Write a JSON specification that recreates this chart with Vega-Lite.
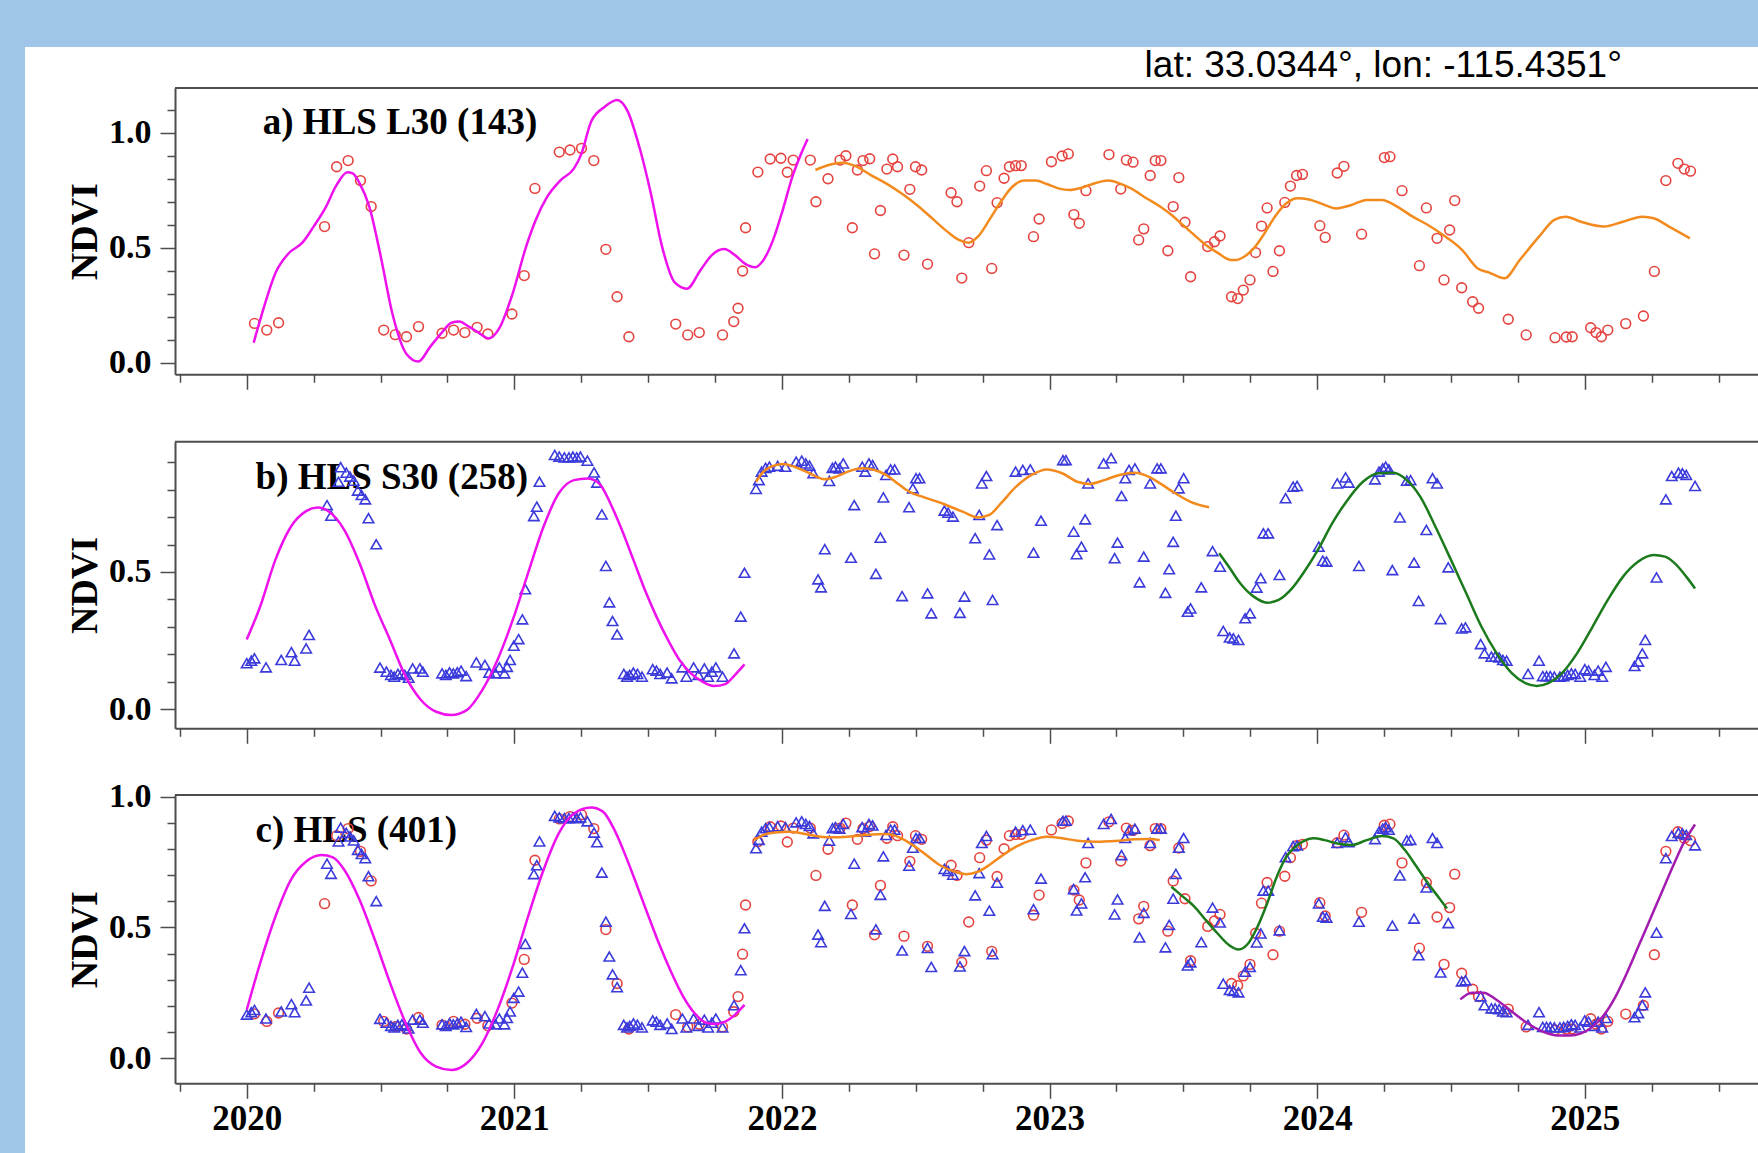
{
"$schema": "https://vega.github.io/schema/vega-lite/v6.json",
"width": 1733,
"height": 1106,
"autosize": {"type": "none"},
"padding": {"left": 25, "top": 47, "right": 0, "bottom": 0},
"background": "#9fc5e8",
"config": {
  "view": {"fill": "#ffffff", "stroke": null},
  "axis": {"domainColor": "#4d4d4d", "domainWidth": 2, "tickColor": "#4d4d4d", "tickWidth": 1.5, "grid": false,
    "labelFont": "Liberation Serif", "labelFontWeight": "bold", "labelColor": "#000000",
    "titleFont": "Liberation Serif", "titleFontWeight": "bold", "titleColor": "#000000",
    "labelOverlap": false, "labelFlush": false, "labelBound": false}
},
"datasets": {
"l30": [
{"year":2020.029,"ndvi":0.170},{"year":2020.075,"ndvi":0.141},{"year":2020.119,"ndvi":0.173},{"year":2020.291,"ndvi":0.591},{"year":2020.336,"ndvi":0.851},{"year":2020.379,"ndvi":0.878},{"year":2020.425,"ndvi":0.791},{"year":2020.465,"ndvi":0.678},{"year":2020.512,"ndvi":0.141},{"year":2020.555,"ndvi":0.121},{"year":2020.597,"ndvi":0.112},{"year":2020.642,"ndvi":0.156},{"year":2020.730,"ndvi":0.127},{"year":2020.773,"ndvi":0.141},{"year":2020.815,"ndvi":0.130},{"year":2020.861,"ndvi":0.153},{"year":2020.901,"ndvi":0.124},{"year":2020.991,"ndvi":0.211},{"year":2021.037,"ndvi":0.378},{"year":2021.077,"ndvi":0.757},{"year":2021.168,"ndvi":0.915},{"year":2021.208,"ndvi":0.924},{"year":2021.251,"ndvi":0.931},{"year":2021.297,"ndvi":0.878},
{"year":2021.342,"ndvi":0.492},{"year":2021.384,"ndvi":0.286},{"year":2021.428,"ndvi":0.112},{"year":2021.603,"ndvi":0.167},{"year":2021.648,"ndvi":0.120},{"year":2021.691,"ndvi":0.130},{"year":2021.778,"ndvi":0.120},{"year":2021.820,"ndvi":0.178},{"year":2021.836,"ndvi":0.236},{"year":2021.853,"ndvi":0.398},{"year":2021.864,"ndvi":0.586},{"year":2021.910,"ndvi":0.828},{"year":2021.956,"ndvi":0.885},{"year":2021.996,"ndvi":0.888},{"year":2022.020,"ndvi":0.827},{"year":2022.042,"ndvi":0.880},{"year":2022.106,"ndvi":0.880},{"year":2022.127,"ndvi":0.699},{"year":2022.172,"ndvi":0.799},{"year":2022.217,"ndvi":0.880},{"year":2022.239,"ndvi":0.899},{"year":2022.263,"ndvi":0.586},{"year":2022.282,"ndvi":0.837},{"year":2022.303,"ndvi":0.878},{"year":2022.328,"ndvi":0.886},{"year":2022.346,"ndvi":0.472},{"year":2022.368,"ndvi":0.661},{"year":2022.392,"ndvi":0.841},{"year":2022.414,"ndvi":0.885},{"year":2022.432,"ndvi":0.851},{"year":2022.456,"ndvi":0.467},{"year":2022.478,"ndvi":0.753},{"year":2022.499,"ndvi":0.851},{"year":2022.522,"ndvi":0.837},{"year":2022.544,"ndvi":0.428},{"year":2022.632,"ndvi":0.738},{"year":2022.654,"ndvi":0.699},{"year":2022.672,"ndvi":0.367},{"year":2022.698,"ndvi":0.521},{"year":2022.739,"ndvi":0.767},{"year":2022.764,"ndvi":0.834},{"year":2022.784,"ndvi":0.409},{"year":2022.804,"ndvi":0.695},{"year":2022.830,"ndvi":0.801},{"year":2022.850,"ndvi":0.851},{"year":2022.873,"ndvi":0.856},{"year":2022.894,"ndvi":0.856},{"year":2022.940,"ndvi":0.547},{"year":2022.961,"ndvi":0.624},{"year":2023.007,"ndvi":0.873},{"year":2023.047,"ndvi":0.898},{"year":2023.070,"ndvi":0.907},{"year":2023.091,"ndvi":0.643},{"year":2023.111,"ndvi":0.605},{"year":2023.136,"ndvi":0.747},{"year":2023.222,"ndvi":0.904},{"year":2023.266,"ndvi":0.754},{"year":2023.287,"ndvi":0.880},{"year":2023.312,"ndvi":0.871},{"year":2023.333,"ndvi":0.533},{"year":2023.352,"ndvi":0.581},{"year":2023.376,"ndvi":0.813},{"year":2023.395,"ndvi":0.878},{"year":2023.416,"ndvi":0.878},{"year":2023.442,"ndvi":0.486},{"year":2023.462,"ndvi":0.678},{"year":2023.483,"ndvi":0.804},
{"year":2023.506,"ndvi":0.610},{"year":2023.527,"ndvi":0.373},{"year":2023.591,"ndvi":0.504},{"year":2023.616,"ndvi":0.525},{"year":2023.637,"ndvi":0.550},{"year":2023.680,"ndvi":0.286},{"year":2023.703,"ndvi":0.278},{"year":2023.724,"ndvi":0.315},{"year":2023.749,"ndvi":0.359},{"year":2023.770,"ndvi":0.478},{"year":2023.792,"ndvi":0.593},{"year":2023.813,"ndvi":0.672},{"year":2023.835,"ndvi":0.396},{"year":2023.859,"ndvi":0.486},{"year":2023.879,"ndvi":0.696},{"year":2023.900,"ndvi":0.767},{"year":2023.923,"ndvi":0.813},{"year":2023.945,"ndvi":0.818},{"year":2024.010,"ndvi":0.595},{"year":2024.030,"ndvi":0.544},{"year":2024.075,"ndvi":0.824},{"year":2024.100,"ndvi":0.853},{"year":2024.166,"ndvi":0.558},{"year":2024.251,"ndvi":0.891},{"year":2024.272,"ndvi":0.895},{"year":2024.317,"ndvi":0.747},{"year":2024.382,"ndvi":0.421},{"year":2024.408,"ndvi":0.672},{"year":2024.448,"ndvi":0.540},{"year":2024.474,"ndvi":0.359},{"year":2024.495,"ndvi":0.576},{"year":2024.514,"ndvi":0.704},{"year":2024.540,"ndvi":0.325},{"year":2024.581,"ndvi":0.264},{"year":2024.603,"ndvi":0.236},{"year":2024.714,"ndvi":0.188},{"year":2024.781,"ndvi":0.120},{"year":2024.889,"ndvi":0.108},{"year":2024.931,"ndvi":0.111},{"year":2024.953,"ndvi":0.112},{"year":2025.022,"ndvi":0.151},{"year":2025.042,"ndvi":0.130},{"year":2025.062,"ndvi":0.112},{"year":2025.086,"ndvi":0.141},{"year":2025.153,"ndvi":0.169},{"year":2025.219,"ndvi":0.202},{"year":2025.260,"ndvi":0.396},{"year":2025.303,"ndvi":0.791},{"year":2025.348,"ndvi":0.866},{"year":2025.372,"ndvi":0.841},{"year":2025.395,"ndvi":0.832}
],
"s30": [
{"year":2020.000,"ndvi":0.167},{"year":2020.017,"ndvi":0.176},{"year":2020.029,"ndvi":0.185},{"year":2020.072,"ndvi":0.152},{"year":2020.129,"ndvi":0.179},{"year":2020.167,"ndvi":0.207},{"year":2020.179,"ndvi":0.176},{"year":2020.222,"ndvi":0.221},{"year":2020.233,"ndvi":0.270},{"year":2020.300,"ndvi":0.744},{"year":2020.315,"ndvi":0.705},{"year":2020.343,"ndvi":0.829},{"year":2020.351,"ndvi":0.882},{"year":2020.372,"ndvi":0.862},{"year":2020.386,"ndvi":0.848},{"year":2020.400,"ndvi":0.833},{"year":2020.415,"ndvi":0.797},{"year":2020.429,"ndvi":0.781},{"year":2020.443,"ndvi":0.765},{"year":2020.455,"ndvi":0.696},{"year":2020.484,"ndvi":0.601},{"year":2020.498,"ndvi":0.151},{"year":2020.522,"ndvi":0.136},{"year":2020.539,"ndvi":0.124},{"year":2020.551,"ndvi":0.118},{"year":2020.565,"ndvi":0.128},{"year":2020.580,"ndvi":0.130},{"year":2020.591,"ndvi":0.124},{"year":2020.605,"ndvi":0.114},{"year":2020.620,"ndvi":0.148},{"year":2020.647,"ndvi":0.148},{"year":2020.658,"ndvi":0.136},{"year":2020.730,"ndvi":0.130},{"year":2020.744,"ndvi":0.124},{"year":2020.758,"ndvi":0.134},{"year":2020.772,"ndvi":0.130},{"year":2020.787,"ndvi":0.134},{"year":2020.801,"ndvi":0.140},{"year":2020.820,"ndvi":0.120},{"year":2020.858,"ndvi":0.170},{"year":2020.890,"ndvi":0.161},{"year":2020.906,"ndvi":0.133},{"year":2020.930,"ndvi":0.130},{"year":2020.944,"ndvi":0.152},{"year":2020.963,"ndvi":0.130},{"year":2020.973,"ndvi":0.154},{"year":2020.984,"ndvi":0.179},{"year":2020.998,"ndvi":0.231},{"year":2021.016,"ndvi":0.255},{"year":2021.030,"ndvi":0.327},{"year":2021.041,"ndvi":0.437},{"year":2021.073,"ndvi":0.704},{"year":2021.084,"ndvi":0.738},{"year":2021.094,"ndvi":0.829},{"year":2021.151,"ndvi":0.927},{"year":2021.168,"ndvi":0.921},{"year":2021.187,"ndvi":0.918},{"year":2021.204,"ndvi":0.918},{"year":2021.219,"ndvi":0.921},{"year":2021.233,"ndvi":0.918},{"year":2021.247,"ndvi":0.921},{"year":2021.273,"ndvi":0.906},
{"year":2021.298,"ndvi":0.863},{"year":2021.309,"ndvi":0.826},{"year":2021.327,"ndvi":0.710},{"year":2021.342,"ndvi":0.522},{"year":2021.355,"ndvi":0.389},{"year":2021.367,"ndvi":0.321},{"year":2021.384,"ndvi":0.272},{"year":2021.409,"ndvi":0.128},{"year":2021.421,"ndvi":0.118},{"year":2021.431,"ndvi":0.124},{"year":2021.445,"ndvi":0.133},{"year":2021.460,"ndvi":0.128},{"year":2021.477,"ndvi":0.118},{"year":2021.517,"ndvi":0.145},{"year":2021.531,"ndvi":0.140},{"year":2021.545,"ndvi":0.128},{"year":2021.571,"ndvi":0.133},{"year":2021.588,"ndvi":0.112},{"year":2021.628,"ndvi":0.152},{"year":2021.643,"ndvi":0.118},{"year":2021.670,"ndvi":0.152},{"year":2021.688,"ndvi":0.124},{"year":2021.710,"ndvi":0.148},{"year":2021.724,"ndvi":0.118},{"year":2021.738,"ndvi":0.136},{"year":2021.753,"ndvi":0.152},{"year":2021.778,"ndvi":0.118},{"year":2021.821,"ndvi":0.203},{"year":2021.846,"ndvi":0.337},{"year":2021.860,"ndvi":0.497},{"year":2021.903,"ndvi":0.803},{"year":2021.914,"ndvi":0.835},{"year":2021.924,"ndvi":0.866},{"year":2021.939,"ndvi":0.880},{"year":2021.953,"ndvi":0.884},{"year":2021.984,"ndvi":0.887},{"year":2022.013,"ndvi":0.884},{"year":2022.053,"ndvi":0.902},{"year":2022.074,"ndvi":0.906},{"year":2022.089,"ndvi":0.896},{"year":2022.103,"ndvi":0.888},{"year":2022.117,"ndvi":0.860},{"year":2022.135,"ndvi":0.473},{"year":2022.146,"ndvi":0.444},{"year":2022.160,"ndvi":0.583},{"year":2022.177,"ndvi":0.832},{"year":2022.189,"ndvi":0.880},{"year":2022.200,"ndvi":0.884},{"year":2022.215,"ndvi":0.878},{"year":2022.229,"ndvi":0.896},{"year":2022.258,"ndvi":0.552},{"year":2022.270,"ndvi":0.744},{"year":2022.300,"ndvi":0.884},{"year":2022.311,"ndvi":0.866},{"year":2022.325,"ndvi":0.896},{"year":2022.339,"ndvi":0.890},{"year":2022.351,"ndvi":0.493},{"year":2022.368,"ndvi":0.625},{"year":2022.379,"ndvi":0.772},{"year":2022.389,"ndvi":0.854},{"year":2022.406,"ndvi":0.874},{"year":2022.421,"ndvi":0.874},{"year":2022.449,"ndvi":0.412},{"year":2022.475,"ndvi":0.736},{"year":2022.489,"ndvi":0.805},{"year":2022.501,"ndvi":0.842},{"year":2022.514,"ndvi":0.842},{"year":2022.544,"ndvi":0.422},{"year":2022.558,"ndvi":0.349},{"year":2022.607,"ndvi":0.724},{"year":2022.621,"ndvi":0.716},{"year":2022.639,"ndvi":0.702},{"year":2022.665,"ndvi":0.351},{"year":2022.682,"ndvi":0.410},{"year":2022.722,"ndvi":0.623},{"year":2022.737,"ndvi":0.708},{"year":2022.747,"ndvi":0.823},{"year":2022.764,"ndvi":0.850},{"year":2022.775,"ndvi":0.564},{"year":2022.787,"ndvi":0.398},{"year":2022.804,"ndvi":0.671},{"year":2022.873,"ndvi":0.866},{"year":2022.900,"ndvi":0.872},{"year":2022.928,"ndvi":0.874},{"year":2022.940,"ndvi":0.570},{"year":2022.968,"ndvi":0.687},{"year":2023.050,"ndvi":0.908},{"year":2023.061,"ndvi":0.908},{"year":2023.090,"ndvi":0.647},{"year":2023.101,"ndvi":0.565},{"year":2023.119,"ndvi":0.592},{"year":2023.133,"ndvi":0.692},{"year":2023.144,"ndvi":0.823},{"year":2023.202,"ndvi":0.896},{"year":2023.230,"ndvi":0.915},{"year":2023.243,"ndvi":0.550},{"year":2023.254,"ndvi":0.607},{"year":2023.269,"ndvi":0.777},{"year":2023.283,"ndvi":0.842},{"year":2023.297,"ndvi":0.872},{"year":2023.319,"ndvi":0.878},{"year":2023.336,"ndvi":0.462},{"year":2023.352,"ndvi":0.556},{"year":2023.376,"ndvi":0.823},{"year":2023.402,"ndvi":0.878},{"year":2023.416,"ndvi":0.878},{"year":2023.433,"ndvi":0.424},{"year":2023.447,"ndvi":0.510},{"year":2023.462,"ndvi":0.610},{"year":2023.472,"ndvi":0.705},{"year":2023.483,"ndvi":0.805},
{"year":2023.501,"ndvi":0.842},{"year":2023.516,"ndvi":0.355},{"year":2023.527,"ndvi":0.367},{"year":2023.567,"ndvi":0.444},{"year":2023.609,"ndvi":0.576},{"year":2023.637,"ndvi":0.519},{"year":2023.649,"ndvi":0.285},{"year":2023.673,"ndvi":0.261},{"year":2023.687,"ndvi":0.258},{"year":2023.706,"ndvi":0.252},{"year":2023.731,"ndvi":0.331},{"year":2023.749,"ndvi":0.349},{"year":2023.774,"ndvi":0.443},{"year":2023.789,"ndvi":0.477},{"year":2023.799,"ndvi":0.641},{"year":2023.817,"ndvi":0.641},{"year":2023.859,"ndvi":0.489},{"year":2023.882,"ndvi":0.769},{"year":2023.910,"ndvi":0.811},{"year":2023.925,"ndvi":0.814},{"year":2024.006,"ndvi":0.592},{"year":2024.021,"ndvi":0.541},{"year":2024.035,"ndvi":0.538},{"year":2024.075,"ndvi":0.823},{"year":2024.106,"ndvi":0.845},{"year":2024.118,"ndvi":0.826},{"year":2024.156,"ndvi":0.522},{"year":2024.216,"ndvi":0.838},{"year":2024.231,"ndvi":0.866},{"year":2024.245,"ndvi":0.878},{"year":2024.256,"ndvi":0.884},{"year":2024.268,"ndvi":0.874},{"year":2024.281,"ndvi":0.507},{"year":2024.309,"ndvi":0.699},{"year":2024.335,"ndvi":0.833},{"year":2024.349,"ndvi":0.835},{"year":2024.362,"ndvi":0.534},{"year":2024.379,"ndvi":0.394},{"year":2024.408,"ndvi":0.653},{"year":2024.431,"ndvi":0.842},{"year":2024.448,"ndvi":0.823},{"year":2024.461,"ndvi":0.328},{"year":2024.490,"ndvi":0.517},{"year":2024.540,"ndvi":0.294},{"year":2024.554,"ndvi":0.298},{"year":2024.611,"ndvi":0.237},{"year":2024.625,"ndvi":0.203},{"year":2024.651,"ndvi":0.191},{"year":2024.665,"ndvi":0.191},{"year":2024.680,"ndvi":0.188},{"year":2024.694,"ndvi":0.179},{"year":2024.708,"ndvi":0.176},{"year":2024.788,"ndvi":0.128},{"year":2024.829,"ndvi":0.176},{"year":2024.843,"ndvi":0.120},{"year":2024.857,"ndvi":0.120},{"year":2024.871,"ndvi":0.120},{"year":2024.886,"ndvi":0.118},{"year":2024.907,"ndvi":0.118},{"year":2024.921,"ndvi":0.120},{"year":2024.936,"ndvi":0.124},{"year":2024.950,"ndvi":0.130},{"year":2024.964,"ndvi":0.128},{"year":2024.983,"ndvi":0.118},{"year":2025.000,"ndvi":0.145},{"year":2025.014,"ndvi":0.140},{"year":2025.036,"ndvi":0.124},{"year":2025.050,"ndvi":0.140},{"year":2025.065,"ndvi":0.118},{"year":2025.079,"ndvi":0.154},{"year":2025.186,"ndvi":0.157},{"year":2025.200,"ndvi":0.173},{"year":2025.215,"ndvi":0.203},{"year":2025.226,"ndvi":0.252},{"year":2025.268,"ndvi":0.480},{"year":2025.303,"ndvi":0.765},{"year":2025.325,"ndvi":0.850},{"year":2025.350,"ndvi":0.862},{"year":2025.365,"ndvi":0.860},{"year":2025.379,"ndvi":0.854},{"year":2025.412,"ndvi":0.814}
],
"fits": [
{"panel":"a","fit":1,"year":2020.026,"ndvi":0.086},{"panel":"a","fit":1,"year":2020.065,"ndvi":0.243},{"panel":"a","fit":1,"year":2020.107,"ndvi":0.388},{"panel":"a","fit":1,"year":2020.157,"ndvi":0.475},{"panel":"a","fit":1,"year":2020.208,"ndvi":0.521},{"panel":"a","fit":1,"year":2020.250,"ndvi":0.591},{"panel":"a","fit":1,"year":2020.293,"ndvi":0.670},{"panel":"a","fit":1,"year":2020.336,"ndvi":0.772},{"panel":"a","fit":1,"year":2020.376,"ndvi":0.827},{"panel":"a","fit":1,"year":2020.396,"ndvi":0.822},{"panel":"a","fit":1,"year":2020.422,"ndvi":0.779},{"panel":"a","fit":1,"year":2020.458,"ndvi":0.678},{"panel":"a","fit":1,"year":2020.501,"ndvi":0.460},{"panel":"a","fit":1,"year":2020.544,"ndvi":0.214},{"panel":"a","fit":1,"year":2020.597,"ndvi":0.037},{"panel":"a","fit":1,"year":2020.641,"ndvi":0.004},{"panel":"a","fit":1,"year":2020.686,"ndvi":0.069},{"panel":"a","fit":1,"year":2020.729,"ndvi":0.130},{"panel":"a","fit":1,"year":2020.765,"ndvi":0.173},{"panel":"a","fit":1,"year":2020.794,"ndvi":0.178},{"panel":"a","fit":1,"year":2020.830,"ndvi":0.156},{"panel":"a","fit":1,"year":2020.865,"ndvi":0.131},{"panel":"a","fit":1,"year":2020.905,"ndvi":0.105},{"panel":"a","fit":1,"year":2020.944,"ndvi":0.149},{"panel":"a","fit":1,"year":2020.994,"ndvi":0.301},{"panel":"a","fit":1,"year":2021.044,"ndvi":0.504},{"panel":"a","fit":1,"year":2021.080,"ndvi":0.620},{"panel":"a","fit":1,"year":2021.123,"ndvi":0.721},{"panel":"a","fit":1,"year":2021.173,"ndvi":0.793},{"panel":"a","fit":1,"year":2021.223,"ndvi":0.844},{"panel":"a","fit":1,"year":2021.250,"ndvi":0.905},{"panel":"a","fit":1,"year":2021.288,"ndvi":1.050},{"panel":"a","fit":1,"year":2021.338,"ndvi":1.112},{"panel":"a","fit":1,"year":2021.384,"ndvi":1.141},{"panel":"a","fit":1,"year":2021.424,"ndvi":1.091},{"panel":"a","fit":1,"year":2021.467,"ndvi":0.938},{"panel":"a","fit":1,"year":2021.510,"ndvi":0.736},{"panel":"a","fit":1,"year":2021.552,"ndvi":0.504},{"panel":"a","fit":1,"year":2021.600,"ndvi":0.347},{"panel":"a","fit":1,"year":2021.645,"ndvi":0.321},{"panel":"a","fit":1,"year":2021.696,"ndvi":0.402},{"panel":"a","fit":1,"year":2021.738,"ndvi":0.467},{"panel":"a","fit":1,"year":2021.784,"ndvi":0.493},{"panel":"a","fit":1,"year":2021.824,"ndvi":0.467},{"panel":"a","fit":1,"year":2021.860,"ndvi":0.431},{"panel":"a","fit":1,"year":2021.900,"ndvi":0.414},{"panel":"a","fit":1,"year":2021.931,"ndvi":0.446},{"panel":"a","fit":1,"year":2021.967,"ndvi":0.533},{"panel":"a","fit":1,"year":2022.003,"ndvi":0.663},{"panel":"a","fit":1,"year":2022.039,"ndvi":0.808},{"panel":"a","fit":1,"year":2022.072,"ndvi":0.909},{"panel":"a","fit":1,"year":2022.096,"ndvi":0.972},
{"panel":"a","fit":2,"year":2022.125,"ndvi":0.837},{"panel":"a","fit":2,"year":2022.175,"ndvi":0.859},{"panel":"a","fit":2,"year":2022.225,"ndvi":0.869},{"panel":"a","fit":2,"year":2022.275,"ndvi":0.854},{"panel":"a","fit":2,"year":2022.332,"ndvi":0.815},{"panel":"a","fit":2,"year":2022.389,"ndvi":0.779},{"panel":"a","fit":2,"year":2022.446,"ndvi":0.736},{"panel":"a","fit":2,"year":2022.504,"ndvi":0.685},{"panel":"a","fit":2,"year":2022.561,"ndvi":0.627},{"panel":"a","fit":2,"year":2022.618,"ndvi":0.569},{"panel":"a","fit":2,"year":2022.661,"ndvi":0.533},{"panel":"a","fit":2,"year":2022.697,"ndvi":0.521},{"panel":"a","fit":2,"year":2022.732,"ndvi":0.547},{"panel":"a","fit":2,"year":2022.775,"ndvi":0.620},{"panel":"a","fit":2,"year":2022.818,"ndvi":0.699},{"panel":"a","fit":2,"year":2022.861,"ndvi":0.764},{"panel":"a","fit":2,"year":2022.904,"ndvi":0.791},{"panel":"a","fit":2,"year":2022.947,"ndvi":0.791},{"panel":"a","fit":2,"year":2022.990,"ndvi":0.776},{"panel":"a","fit":2,"year":2023.033,"ndvi":0.757},{"panel":"a","fit":2,"year":2023.076,"ndvi":0.750},{"panel":"a","fit":2,"year":2023.119,"ndvi":0.760},{"panel":"a","fit":2,"year":2023.161,"ndvi":0.776},{"panel":"a","fit":2,"year":2023.219,"ndvi":0.791},{"panel":"a","fit":2,"year":2023.261,"ndvi":0.779},{"panel":"a","fit":2,"year":2023.304,"ndvi":0.757},{"panel":"a","fit":2,"year":2023.362,"ndvi":0.714},{"panel":"a","fit":2,"year":2023.413,"ndvi":0.678},{"panel":"a","fit":2,"year":2023.456,"ndvi":0.641},{"panel":"a","fit":2,"year":2023.498,"ndvi":0.598},{"panel":"a","fit":2,"year":2023.541,"ndvi":0.554},{"panel":"a","fit":2,"year":2023.584,"ndvi":0.511},{"panel":"a","fit":2,"year":2023.627,"ndvi":0.478},{"panel":"a","fit":2,"year":2023.677,"ndvi":0.446},{"panel":"a","fit":2,"year":2023.699,"ndvi":0.446},{"panel":"a","fit":2,"year":2023.727,"ndvi":0.460},{"panel":"a","fit":2,"year":2023.763,"ndvi":0.496},{"panel":"a","fit":2,"year":2023.799,"ndvi":0.554},{"panel":"a","fit":2,"year":2023.842,"ndvi":0.634},{"panel":"a","fit":2,"year":2023.885,"ndvi":0.692},{"panel":"a","fit":2,"year":2023.927,"ndvi":0.714},{"panel":"a","fit":2,"year":2023.970,"ndvi":0.709},{"panel":"a","fit":2,"year":2024.013,"ndvi":0.692},{"panel":"a","fit":2,"year":2024.071,"ndvi":0.670},{"panel":"a","fit":2,"year":2024.128,"ndvi":0.685},{"panel":"a","fit":2,"year":2024.185,"ndvi":0.707},{"panel":"a","fit":2,"year":2024.242,"ndvi":0.707},{"panel":"a","fit":2,"year":2024.299,"ndvi":0.678},{"panel":"a","fit":2,"year":2024.357,"ndvi":0.634},{"panel":"a","fit":2,"year":2024.414,"ndvi":0.598},{"panel":"a","fit":2,"year":2024.471,"ndvi":0.554},{"panel":"a","fit":2,"year":2024.542,"ndvi":0.489},{"panel":"a","fit":2,"year":2024.600,"ndvi":0.409},{"panel":"a","fit":2,"year":2024.643,"ndvi":0.391},{"panel":"a","fit":2,"year":2024.700,"ndvi":0.366},{"panel":"a","fit":2,"year":2024.757,"ndvi":0.446},{"panel":"a","fit":2,"year":2024.829,"ndvi":0.547},{"panel":"a","fit":2,"year":2024.886,"ndvi":0.620},{"panel":"a","fit":2,"year":2024.929,"ndvi":0.634},{"panel":"a","fit":2,"year":2024.986,"ndvi":0.612},{"panel":"a","fit":2,"year":2025.072,"ndvi":0.591},{"panel":"a","fit":2,"year":2025.143,"ndvi":0.612},{"panel":"a","fit":2,"year":2025.215,"ndvi":0.634},{"panel":"a","fit":2,"year":2025.258,"ndvi":0.627},{"panel":"a","fit":2,"year":2025.315,"ndvi":0.591},{"panel":"a","fit":2,"year":2025.393,"ndvi":0.540},
{"panel":"b","fit":1,"year":2020.000,"ndvi":0.254},{"panel":"b","fit":1,"year":2020.050,"ndvi":0.373},{"panel":"b","fit":1,"year":2020.107,"ndvi":0.544},{"panel":"b","fit":1,"year":2020.165,"ndvi":0.665},{"panel":"b","fit":1,"year":2020.222,"ndvi":0.722},{"panel":"b","fit":1,"year":2020.265,"ndvi":0.735},{"panel":"b","fit":1,"year":2020.308,"ndvi":0.720},{"panel":"b","fit":1,"year":2020.365,"ndvi":0.653},{"panel":"b","fit":1,"year":2020.422,"ndvi":0.531},{"panel":"b","fit":1,"year":2020.479,"ndvi":0.379},{"panel":"b","fit":1,"year":2020.536,"ndvi":0.251},{"panel":"b","fit":1,"year":2020.594,"ndvi":0.118},{"panel":"b","fit":1,"year":2020.651,"ndvi":0.033},{"panel":"b","fit":1,"year":2020.708,"ndvi":-0.010},{"panel":"b","fit":1,"year":2020.765,"ndvi":-0.022},{"panel":"b","fit":1,"year":2020.822,"ndvi":-0.004},{"panel":"b","fit":1,"year":2020.880,"ndvi":0.069},{"panel":"b","fit":1,"year":2020.937,"ndvi":0.179},{"panel":"b","fit":1,"year":2020.994,"ndvi":0.325},{"panel":"b","fit":1,"year":2021.051,"ndvi":0.495},{"panel":"b","fit":1,"year":2021.109,"ndvi":0.665},{"panel":"b","fit":1,"year":2021.166,"ndvi":0.787},{"panel":"b","fit":1,"year":2021.223,"ndvi":0.835},{"panel":"b","fit":1,"year":2021.273,"ndvi":0.841},{"panel":"b","fit":1,"year":2021.317,"ndvi":0.823},{"panel":"b","fit":1,"year":2021.359,"ndvi":0.750},{"panel":"b","fit":1,"year":2021.402,"ndvi":0.653},{"panel":"b","fit":1,"year":2021.445,"ndvi":0.544},{"panel":"b","fit":1,"year":2021.488,"ndvi":0.434},{"panel":"b","fit":1,"year":2021.531,"ndvi":0.337},{"panel":"b","fit":1,"year":2021.574,"ndvi":0.252},{"panel":"b","fit":1,"year":2021.617,"ndvi":0.179},{"panel":"b","fit":1,"year":2021.660,"ndvi":0.130},{"panel":"b","fit":1,"year":2021.703,"ndvi":0.100},{"panel":"b","fit":1,"year":2021.746,"ndvi":0.084},{"panel":"b","fit":1,"year":2021.788,"ndvi":0.091},{"panel":"b","fit":1,"year":2021.824,"ndvi":0.124},{"panel":"b","fit":1,"year":2021.860,"ndvi":0.163},
{"panel":"b","fit":2,"year":2021.903,"ndvi":0.829},{"panel":"b","fit":2,"year":2021.931,"ndvi":0.866},{"panel":"b","fit":2,"year":2021.960,"ndvi":0.884},{"panel":"b","fit":2,"year":2022.003,"ndvi":0.894},{"panel":"b","fit":2,"year":2022.046,"ndvi":0.884},{"panel":"b","fit":2,"year":2022.103,"ndvi":0.860},{"panel":"b","fit":2,"year":2022.160,"ndvi":0.838},{"panel":"b","fit":2,"year":2022.203,"ndvi":0.848},{"panel":"b","fit":2,"year":2022.246,"ndvi":0.866},{"panel":"b","fit":2,"year":2022.303,"ndvi":0.878},{"panel":"b","fit":2,"year":2022.346,"ndvi":0.872},{"panel":"b","fit":2,"year":2022.389,"ndvi":0.854},{"panel":"b","fit":2,"year":2022.432,"ndvi":0.823},{"panel":"b","fit":2,"year":2022.475,"ndvi":0.793},{"panel":"b","fit":2,"year":2022.532,"ndvi":0.772},{"panel":"b","fit":2,"year":2022.604,"ndvi":0.748},{"panel":"b","fit":2,"year":2022.675,"ndvi":0.720},{"panel":"b","fit":2,"year":2022.732,"ndvi":0.699},{"panel":"b","fit":2,"year":2022.775,"ndvi":0.708},{"panel":"b","fit":2,"year":2022.818,"ndvi":0.750},{"panel":"b","fit":2,"year":2022.875,"ndvi":0.811},{"panel":"b","fit":2,"year":2022.933,"ndvi":0.854},{"panel":"b","fit":2,"year":2022.990,"ndvi":0.874},{"panel":"b","fit":2,"year":2023.047,"ndvi":0.860},{"panel":"b","fit":2,"year":2023.104,"ndvi":0.829},{"panel":"b","fit":2,"year":2023.147,"ndvi":0.821},{"panel":"b","fit":2,"year":2023.204,"ndvi":0.835},{"panel":"b","fit":2,"year":2023.262,"ndvi":0.854},{"panel":"b","fit":2,"year":2023.319,"ndvi":0.862},{"panel":"b","fit":2,"year":2023.376,"ndvi":0.845},{"panel":"b","fit":2,"year":2023.413,"ndvi":0.823},{"panel":"b","fit":2,"year":2023.470,"ndvi":0.787},{"panel":"b","fit":2,"year":2023.527,"ndvi":0.756},{"panel":"b","fit":2,"year":2023.596,"ndvi":0.736},
{"panel":"b","fit":3,"year":2023.634,"ndvi":0.568},{"panel":"b","fit":3,"year":2023.670,"ndvi":0.519},{"panel":"b","fit":3,"year":2023.713,"ndvi":0.458},{"panel":"b","fit":3,"year":2023.763,"ndvi":0.410},{"panel":"b","fit":3,"year":2023.813,"ndvi":0.388},{"panel":"b","fit":3,"year":2023.856,"ndvi":0.398},{"panel":"b","fit":3,"year":2023.906,"ndvi":0.440},{"panel":"b","fit":3,"year":2023.956,"ndvi":0.507},{"panel":"b","fit":3,"year":2024.006,"ndvi":0.586},{"panel":"b","fit":3,"year":2024.056,"ndvi":0.677},{"panel":"b","fit":3,"year":2024.113,"ndvi":0.762},{"panel":"b","fit":3,"year":2024.171,"ndvi":0.829},{"panel":"b","fit":3,"year":2024.228,"ndvi":0.860},{"panel":"b","fit":3,"year":2024.285,"ndvi":0.862},{"panel":"b","fit":3,"year":2024.335,"ndvi":0.835},{"panel":"b","fit":3,"year":2024.385,"ndvi":0.775},{"panel":"b","fit":3,"year":2024.442,"ndvi":0.665},{"panel":"b","fit":3,"year":2024.500,"ndvi":0.544},{"panel":"b","fit":3,"year":2024.557,"ndvi":0.422},{"panel":"b","fit":3,"year":2024.614,"ndvi":0.300},{"panel":"b","fit":3,"year":2024.671,"ndvi":0.203},{"panel":"b","fit":3,"year":2024.728,"ndvi":0.130},{"panel":"b","fit":3,"year":2024.778,"ndvi":0.094},{"panel":"b","fit":3,"year":2024.821,"ndvi":0.084},{"panel":"b","fit":3,"year":2024.864,"ndvi":0.094},{"panel":"b","fit":3,"year":2024.914,"ndvi":0.130},{"panel":"b","fit":3,"year":2024.971,"ndvi":0.203},{"panel":"b","fit":3,"year":2025.029,"ndvi":0.300},{"panel":"b","fit":3,"year":2025.086,"ndvi":0.398},{"panel":"b","fit":3,"year":2025.143,"ndvi":0.483},{"panel":"b","fit":3,"year":2025.200,"ndvi":0.538},{"panel":"b","fit":3,"year":2025.257,"ndvi":0.562},{"panel":"b","fit":3,"year":2025.300,"ndvi":0.556},{"panel":"b","fit":3,"year":2025.343,"ndvi":0.525},{"panel":"b","fit":3,"year":2025.379,"ndvi":0.483},{"panel":"b","fit":3,"year":2025.412,"ndvi":0.440},
{"panel":"c","fit":1,"year":2020.000,"ndvi":0.185},{"panel":"c","fit":1,"year":2020.050,"ndvi":0.363},{"panel":"c","fit":1,"year":2020.107,"ndvi":0.541},{"panel":"c","fit":1,"year":2020.165,"ndvi":0.682},{"panel":"c","fit":1,"year":2020.222,"ndvi":0.752},{"panel":"c","fit":1,"year":2020.279,"ndvi":0.777},{"panel":"c","fit":1,"year":2020.322,"ndvi":0.768},{"panel":"c","fit":1,"year":2020.365,"ndvi":0.720},{"panel":"c","fit":1,"year":2020.422,"ndvi":0.605},{"panel":"c","fit":1,"year":2020.479,"ndvi":0.452},{"panel":"c","fit":1,"year":2020.536,"ndvi":0.287},{"panel":"c","fit":1,"year":2020.594,"ndvi":0.134},{"panel":"c","fit":1,"year":2020.651,"ndvi":0.019},{"panel":"c","fit":1,"year":2020.708,"ndvi":-0.032},{"panel":"c","fit":1,"year":2020.765,"ndvi":-0.045},{"panel":"c","fit":1,"year":2020.822,"ndvi":-0.019},{"panel":"c","fit":1,"year":2020.880,"ndvi":0.057},{"panel":"c","fit":1,"year":2020.937,"ndvi":0.185},{"panel":"c","fit":1,"year":2020.994,"ndvi":0.350},{"panel":"c","fit":1,"year":2021.051,"ndvi":0.541},{"panel":"c","fit":1,"year":2021.109,"ndvi":0.720},{"panel":"c","fit":1,"year":2021.166,"ndvi":0.860},{"panel":"c","fit":1,"year":2021.223,"ndvi":0.936},{"panel":"c","fit":1,"year":2021.287,"ndvi":0.959},{"panel":"c","fit":1,"year":2021.331,"ndvi":0.943},{"panel":"c","fit":1,"year":2021.374,"ndvi":0.873},{"panel":"c","fit":1,"year":2021.417,"ndvi":0.771},{"panel":"c","fit":1,"year":2021.460,"ndvi":0.656},{"panel":"c","fit":1,"year":2021.502,"ndvi":0.541},{"panel":"c","fit":1,"year":2021.545,"ndvi":0.427},{"panel":"c","fit":1,"year":2021.588,"ndvi":0.325},{"panel":"c","fit":1,"year":2021.631,"ndvi":0.236},{"panel":"c","fit":1,"year":2021.674,"ndvi":0.172},{"panel":"c","fit":1,"year":2021.717,"ndvi":0.136},{"panel":"c","fit":1,"year":2021.753,"ndvi":0.131},{"panel":"c","fit":1,"year":2021.788,"ndvi":0.140},{"panel":"c","fit":1,"year":2021.824,"ndvi":0.166},{"panel":"c","fit":1,"year":2021.860,"ndvi":0.204},
{"panel":"c","fit":2,"year":2021.896,"ndvi":0.834},{"panel":"c","fit":2,"year":2021.931,"ndvi":0.854},{"panel":"c","fit":2,"year":2021.974,"ndvi":0.863},{"panel":"c","fit":2,"year":2022.032,"ndvi":0.866},{"panel":"c","fit":2,"year":2022.103,"ndvi":0.854},{"panel":"c","fit":2,"year":2022.175,"ndvi":0.845},{"panel":"c","fit":2,"year":2022.246,"ndvi":0.847},{"panel":"c","fit":2,"year":2022.318,"ndvi":0.854},{"panel":"c","fit":2,"year":2022.389,"ndvi":0.857},{"panel":"c","fit":2,"year":2022.446,"ndvi":0.841},{"panel":"c","fit":2,"year":2022.489,"ndvi":0.815},{"panel":"c","fit":2,"year":2022.532,"ndvi":0.783},{"panel":"c","fit":2,"year":2022.589,"ndvi":0.739},{"panel":"c","fit":2,"year":2022.647,"ndvi":0.713},{"panel":"c","fit":2,"year":2022.689,"ndvi":0.704},{"panel":"c","fit":2,"year":2022.732,"ndvi":0.713},{"panel":"c","fit":2,"year":2022.775,"ndvi":0.739},{"panel":"c","fit":2,"year":2022.818,"ndvi":0.771},{"panel":"c","fit":2,"year":2022.875,"ndvi":0.809},{"panel":"c","fit":2,"year":2022.933,"ndvi":0.834},{"panel":"c","fit":2,"year":2022.990,"ndvi":0.847},{"panel":"c","fit":2,"year":2023.047,"ndvi":0.841},{"panel":"c","fit":2,"year":2023.104,"ndvi":0.832},{"panel":"c","fit":2,"year":2023.176,"ndvi":0.828},{"panel":"c","fit":2,"year":2023.247,"ndvi":0.831},{"panel":"c","fit":2,"year":2023.319,"ndvi":0.837},{"panel":"c","fit":2,"year":2023.376,"ndvi":0.838},{"panel":"c","fit":2,"year":2023.412,"ndvi":0.834},
{"panel":"c","fit":3,"year":2023.455,"ndvi":0.656},{"panel":"c","fit":3,"year":2023.498,"ndvi":0.618},{"panel":"c","fit":3,"year":2023.541,"ndvi":0.580},{"panel":"c","fit":3,"year":2023.584,"ndvi":0.528},{"panel":"c","fit":3,"year":2023.627,"ndvi":0.478},{"panel":"c","fit":3,"year":2023.670,"ndvi":0.433},{"panel":"c","fit":3,"year":2023.706,"ndvi":0.416},{"panel":"c","fit":3,"year":2023.742,"ndvi":0.439},{"panel":"c","fit":3,"year":2023.777,"ndvi":0.503},{"panel":"c","fit":3,"year":2023.813,"ndvi":0.592},{"panel":"c","fit":3,"year":2023.849,"ndvi":0.694},{"panel":"c","fit":3,"year":2023.885,"ndvi":0.771},{"panel":"c","fit":3,"year":2023.927,"ndvi":0.815},{"panel":"c","fit":3,"year":2023.985,"ndvi":0.841},{"panel":"c","fit":3,"year":2024.028,"ndvi":0.834},{"panel":"c","fit":3,"year":2024.071,"ndvi":0.822},{"panel":"c","fit":3,"year":2024.128,"ndvi":0.815},{"panel":"c","fit":3,"year":2024.185,"ndvi":0.834},{"panel":"c","fit":3,"year":2024.242,"ndvi":0.850},{"panel":"c","fit":3,"year":2024.285,"ndvi":0.841},{"panel":"c","fit":3,"year":2024.328,"ndvi":0.796},{"panel":"c","fit":3,"year":2024.371,"ndvi":0.733},{"panel":"c","fit":3,"year":2024.414,"ndvi":0.669},{"panel":"c","fit":3,"year":2024.457,"ndvi":0.611},{"panel":"c","fit":3,"year":2024.485,"ndvi":0.573},
{"panel":"c","fit":4,"year":2024.535,"ndvi":0.225},{"panel":"c","fit":4,"year":2024.578,"ndvi":0.251},{"panel":"c","fit":4,"year":2024.621,"ndvi":0.251},{"panel":"c","fit":4,"year":2024.671,"ndvi":0.223},{"panel":"c","fit":4,"year":2024.728,"ndvi":0.178},{"panel":"c","fit":4,"year":2024.786,"ndvi":0.134},{"panel":"c","fit":4,"year":2024.843,"ndvi":0.102},{"panel":"c","fit":4,"year":2024.900,"ndvi":0.087},{"panel":"c","fit":4,"year":2024.943,"ndvi":0.087},{"panel":"c","fit":4,"year":2024.986,"ndvi":0.095},{"panel":"c","fit":4,"year":2025.029,"ndvi":0.121},{"panel":"c","fit":4,"year":2025.072,"ndvi":0.166},{"panel":"c","fit":4,"year":2025.115,"ndvi":0.236},{"panel":"c","fit":4,"year":2025.157,"ndvi":0.325},{"panel":"c","fit":4,"year":2025.200,"ndvi":0.427},{"panel":"c","fit":4,"year":2025.243,"ndvi":0.529},{"panel":"c","fit":4,"year":2025.286,"ndvi":0.631},{"panel":"c","fit":4,"year":2025.329,"ndvi":0.733},{"panel":"c","fit":4,"year":2025.372,"ndvi":0.828},{"panel":"c","fit":4,"year":2025.412,"ndvi":0.894}
]
},
"layer": [
{
 "layer": [
  {"data": {"values": [{"part": "frame"}]}, "mark": {"type": "rule", "color": "#4d4d4d", "strokeWidth": 2},
   "encoding": {
    "x": {"datum": 2019.732, "type": "quantitative", "scale": {"domain": [2019.732, 2026], "range": [150, 1827.4], "nice": false, "zero": false},
      "axis": {"orient": "bottom", "offset": -778.7, "title": null, "labels": false, "domain": false, "tickSize": 8, "values": [2019.75,2020.25,2020.5,2020.75,2021.25,2021.5,2021.75,2022.25,2022.5,2022.75,2023.25,2023.5,2023.75,2024.25,2024.5,2024.75,2025.25,2025.5,2025.75]}},
    "x2": {"datum": 2026},
    "y": {"datum": 1.1935, "type": "quantitative", "scale": {"domain": [-0.0513, 1.1935], "range": [327.3, 41], "nice": false, "zero": false},
      "axis": {"orient": "left", "offset": -150, "title": null, "labels": false, "domain": false, "tickSize": 8, "values": [0.1,0.2,0.3,0.4,0.6,0.7,0.8,0.9,1.1]}}
   }},
  {"layer": [
   {"data": {"name": "l30"}, "mark": {"type": "point", "shape": "circle", "filled": false, "size": 95, "strokeWidth": 1.6, "color": "#e5433f", "opacity": 1},
    "encoding": {
     "x": {"field": "year", "type": "quantitative", "scale": {"domain": [2019.732, 2026], "range": [150, 1827.4], "nice": false, "zero": false},
       "axis": {"orient": "bottom", "offset": -778.7, "title": null, "labels": false, "tickSize": 15, "values": [2020,2021,2022,2023,2024,2025]}},
     "y": {"field": "ndvi", "type": "quantitative", "scale": {"domain": [-0.0513, 1.1935], "range": [327.3, 41], "nice": false, "zero": false},
       "axis": {"orient": "left", "offset": -150, "title": "NDVI", "titleFontSize": 38, "titlePadding": 4, "labelFontSize": 34, "labelPadding": 9, "tickSize": 15, "values": [0, 0.5, 1], "format": ".1f"}}
    }},
   {"data": {"values": [{"label": "a) HLS L30 (143)"}]}, "mark": {"type": "text", "font": "Liberation Serif", "fontWeight": "bold", "fontSize": 37, "align": "left", "baseline": "alphabetic", "color": "#000000"},
    "encoding": {"x": {"datum": 2020.06}, "y": {"datum": 0.992}, "text": {"field": "label"}}},
   {"data": {"values": [{"label": "lat: 33.0344°, lon: -115.4351°"}]}, "mark": {"type": "text", "font": "Liberation Sans", "fontSize": 37, "align": "right", "baseline": "alphabetic", "color": "#000000"},
    "encoding": {"x": {"datum": 2025.139}, "y": {"datum": 1.243}, "text": {"field": "label"}}},
   {"data": {"name": "fits"}, "transform": [{"filter": "datum.panel == 'a'"}], "mark": {"type": "line", "strokeWidth": 2.5, "interpolate": "monotone"},
    "encoding": {"x": {"field": "year", "type": "quantitative"}, "y": {"field": "ndvi", "type": "quantitative"},
     "color": {"field": "fit", "type": "nominal", "scale": {"domain": [1,2,3,4], "range": ["#ee11ee", "#f28a1e", "#1b7a1b", "#a21caf"]}, "legend": null}}}
  ]}
 ],
 "resolve": {"scale": {"x": "independent", "y": "independent"}, "axis": {"x": "independent", "y": "independent"}}
},
{
 "layer": [
  {"data": {"values": [{"part": "frame"}]}, "mark": {"type": "rule", "color": "#4d4d4d", "strokeWidth": 2},
   "encoding": {
    "x": {"datum": 2019.732, "type": "quantitative", "scale": {"domain": [2019.732, 2026], "range": [150, 1827.4], "nice": false, "zero": false},
      "axis": {"orient": "bottom", "offset": -424.7, "title": null, "labels": false, "domain": false, "tickSize": 8, "values": [2019.75,2020.25,2020.5,2020.75,2021.25,2021.5,2021.75,2022.25,2022.5,2022.75,2023.25,2023.5,2023.75,2024.25,2024.5,2024.75,2025.25,2025.5,2025.75]}},
    "x2": {"datum": 2026},
    "y": {"datum": 0.9752, "type": "quantitative", "scale": {"domain": [-0.0704, 0.9752], "range": [681.3, 394.7], "nice": false, "zero": false},
      "axis": {"orient": "left", "offset": -150, "title": null, "labels": false, "domain": false, "tickSize": 8, "values": [0.1,0.2,0.3,0.4,0.6,0.7,0.8,0.9]}}
   }},
  {"layer": [
   {"data": {"values": [{"label": "b) HLS S30 (258)"}]}, "mark": {"type": "text", "font": "Liberation Serif", "fontWeight": "bold", "fontSize": 37, "align": "left", "baseline": "alphabetic", "color": "#000000"},
    "encoding": {"x": {"datum": 2020.033, "type": "quantitative", "scale": {"domain": [2019.732, 2026], "range": [150, 1827.4], "nice": false, "zero": false},
       "axis": {"orient": "bottom", "offset": -424.7, "title": null, "labels": false, "tickSize": 15, "values": [2020,2021,2022,2023,2024,2025]}},
     "y": {"datum": 0.8015, "type": "quantitative", "scale": {"domain": [-0.0704, 0.9752], "range": [681.3, 394.7], "nice": false, "zero": false},
       "axis": {"orient": "left", "offset": -150, "title": "NDVI", "titleFontSize": 38, "titlePadding": 4, "labelFontSize": 34, "labelPadding": 9, "tickSize": 15, "values": [0, 0.5], "format": ".1f"}},
     "text": {"field": "label"}}},
   {"data": {"name": "s30"}, "mark": {"type": "point", "shape": "triangle-up", "filled": false, "size": 110, "strokeWidth": 1.6, "color": "#3b3bdc", "opacity": 1},
    "encoding": {"x": {"field": "year", "type": "quantitative"}, "y": {"field": "ndvi", "type": "quantitative"}}},
   {"data": {"name": "fits"}, "transform": [{"filter": "datum.panel == 'b'"}], "mark": {"type": "line", "strokeWidth": 2.5, "interpolate": "monotone"},
    "encoding": {"x": {"field": "year", "type": "quantitative"}, "y": {"field": "ndvi", "type": "quantitative"},
     "color": {"field": "fit", "type": "nominal", "scale": {"domain": [1,2,3,4], "range": ["#ee11ee", "#f28a1e", "#1b7a1b", "#a21caf"]}, "legend": null}}}
  ]}
 ],
 "resolve": {"scale": {"x": "independent", "y": "independent"}, "axis": {"x": "independent", "y": "independent"}}
},
{
 "layer": [
  {"data": {"values": [{"part": "frame"}]}, "mark": {"type": "rule", "color": "#4d4d4d", "strokeWidth": 2},
   "encoding": {
    "x": {"datum": 2019.732, "type": "quantitative", "scale": {"domain": [2019.732, 2026], "range": [150, 1827.4], "nice": false, "zero": false},
      "axis": {"orient": "bottom", "offset": -69.7, "title": null, "labels": false, "domain": false, "tickSize": 8, "values": [2019.75,2020.25,2020.5,2020.75,2021.25,2021.5,2021.75,2022.25,2022.5,2022.75,2023.25,2023.5,2023.75,2024.25,2024.5,2024.75,2025.25,2025.5,2025.75]}},
    "x2": {"datum": 2026},
    "y": {"datum": 1.0065, "type": "quantitative", "scale": {"domain": [-0.0956, 1.0065], "range": [1036.3, 748], "nice": false, "zero": false},
      "axis": {"orient": "left", "offset": -150, "title": null, "labels": false, "domain": false, "tickSize": 8, "values": [0.1,0.2,0.3,0.4,0.6,0.7,0.8,0.9]}}
   }},
  {"layer": [
   {"data": {"values": [{"label": "c) HLS (401)"}]}, "mark": {"type": "text", "font": "Liberation Serif", "fontWeight": "bold", "fontSize": 37, "align": "left", "baseline": "alphabetic", "color": "#000000"},
    "encoding": {"x": {"datum": 2020.033, "type": "quantitative", "scale": {"domain": [2019.732, 2026], "range": [150, 1827.4], "nice": false, "zero": false},
       "axis": {"orient": "bottom", "offset": -69.7, "title": null, "labelFontSize": 35, "labelPadding": 3, "tickSize": 15, "values": [2020,2021,2022,2023,2024,2025], "format": "d"}},
     "y": {"datum": 0.828, "type": "quantitative", "scale": {"domain": [-0.0956, 1.0065], "range": [1036.3, 748], "nice": false, "zero": false},
       "axis": {"orient": "left", "offset": -150, "title": "NDVI", "titleFontSize": 38, "titlePadding": 4, "labelFontSize": 34, "labelPadding": 9, "tickSize": 15, "values": [0, 0.5, 1], "format": ".1f"}},
     "text": {"field": "label"}}},
   {"data": {"name": "l30"}, "mark": {"type": "point", "shape": "circle", "filled": false, "size": 95, "strokeWidth": 1.6, "color": "#e5433f", "opacity": 1},
    "encoding": {"x": {"field": "year", "type": "quantitative"}, "y": {"field": "ndvi", "type": "quantitative"}}},
   {"data": {"name": "s30"}, "mark": {"type": "point", "shape": "triangle-up", "filled": false, "size": 110, "strokeWidth": 1.6, "color": "#3b3bdc", "opacity": 1},
    "encoding": {"x": {"field": "year", "type": "quantitative"}, "y": {"field": "ndvi", "type": "quantitative"}}},
   {"data": {"name": "fits"}, "transform": [{"filter": "datum.panel == 'c'"}], "mark": {"type": "line", "strokeWidth": 2.5, "interpolate": "monotone"},
    "encoding": {"x": {"field": "year", "type": "quantitative"}, "y": {"field": "ndvi", "type": "quantitative"},
     "color": {"field": "fit", "type": "nominal", "scale": {"domain": [1,2,3,4], "range": ["#ee11ee", "#f28a1e", "#1b7a1b", "#a21caf"]}, "legend": null}}}
  ]}
 ],
 "resolve": {"scale": {"x": "independent", "y": "independent"}, "axis": {"x": "independent", "y": "independent"}}
}
],
"resolve": {"scale": {"x": "independent", "y": "independent"}, "axis": {"x": "independent", "y": "independent"}}
}
